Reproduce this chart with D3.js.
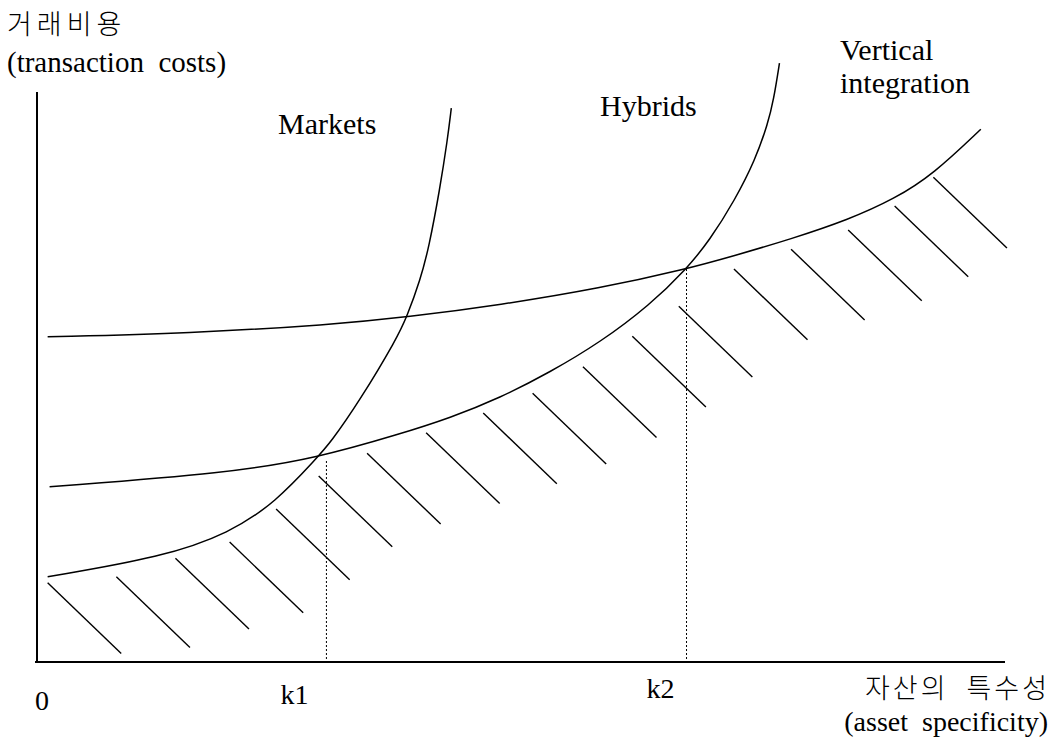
<!DOCTYPE html>
<html>
<head>
<meta charset="utf-8">
<script src="https://d3js.org/d3.v7.min.js"></script>
<style>
  body { margin: 0; background: #fff; }
  .serif { font-family: "Liberation Serif", "DejaVu Serif", serif; fill: #000; }
  .kr { font-family: "Noto Sans CJK KR", sans-serif; fill: #000; font-weight: 300; }
  .curve { fill: none; stroke: #000; stroke-width: 1.5; }
  .hatch { stroke: #000; stroke-width: 1.4; }
  .drop { stroke: #000; stroke-width: 1; stroke-dasharray: 2,2; }
</style>
</head>
<body>
<div id="chart"></div>
<script>
// curves: [asset specificity, transaction cost]
var marketsCurve = [[1.1,14.2],[13.0,17.5],[19.9,21.5],[24.7,26.7],[28.9,34.0],[30.3,36.5],
  [33.4,43.7],[37.2,54.0],[38.2,57.5],[39.6,63.7],[40.5,69.2],[41.6,78.7],[42.4,87.0],[42.8,92.3]];
var hybridsCurve = [[1.3,29.2],[19.9,31.5],[28.9,34.0],[37.5,38.0],[42.7,40.7],[47.8,44.0],
  [53.0,48.3],[58.2,53.3],[63.3,59.5],[67.1,65.5],[69.5,70.3],[72.1,77.0],[74.2,83.7],
  [75.5,89.7],[76.1,93.7],[76.7,99.8]];
var verticalCurve = [[1.1,54.2],[15.8,54.8],[30.3,56.2],[38.3,57.5],[47.8,59.5],[58.2,62.3],
  [67.1,65.5],[72.0,67.7],[77.9,70.5],[83.8,73.7],[88.6,77.2],[92.6,81.3],[97.5,88.8]];

// switch points k1, k2 and the cost where the dotted line starts
var switchPoints = [{ name: "k1", k: 29.9, cost: 33.5 }, { name: "k2", k: 67.1, cost: 65.5 }];

// hatch marks under the lower envelope (upper-left end of each stroke)
var hatchStarts = [[1.1,13.2],[8.2,14.2],[14.3,17.3],[19.9,20.0],[24.7,25.5],[29.1,31.0],
  [34.1,34.8],[40.2,38.2],[46.1,41.5],[51.2,44.8],[56.4,49.2],[61.5,54.3],[66.3,59.3],
  [72.0,65.5],[77.9,68.8],[83.8,72.0],[88.6,76.0],[92.6,80.8]];
var hatchStep = [7.6, -11.8];

var xMax = 100, yTop = 95;

var margin = { top: 62, right: 48, bottom: 79, left: 37 },
  width = 1053 - margin.left - margin.right,
  height = 741 - margin.top - margin.bottom;

var x = d3.scaleLinear().domain([0, xMax]).range([0, width]);
var y = d3.scaleLinear().domain([0, 100]).range([height, 0]);

var line = d3.line()
  .x(function (d) { return x(d[0]); })
  .y(function (d) { return y(d[1]); })
  .curve(d3.curveBasis);

var root = d3.select("#chart").append("svg")
  .attr("width", 1053)
  .attr("height", 741);

var svg = root.append("g")
  .attr("transform", "translate(" + margin.left + "," + margin.top + ")");

// axes (plain lines, no ticks)
svg.append("line")
  .attr("x1", x(0)).attr("x2", x(0))
  .attr("y1", y(0)).attr("y2", y(yTop))
  .attr("stroke", "#000").attr("stroke-width", 2);
svg.append("line")
  .attr("x1", x(0) - 2).attr("x2", x(xMax))
  .attr("y1", y(0)).attr("y2", y(0))
  .attr("stroke", "#000").attr("stroke-width", 2);

// dotted drop lines
svg.selectAll(".drop")
  .data(switchPoints)
  .enter().append("line")
  .attr("class", "drop")
  .attr("x1", function (d) { return x(d.k); })
  .attr("x2", function (d) { return x(d.k); })
  .attr("y1", function (d) { return y(d.cost); })
  .attr("y2", y(0));

// hatching
svg.selectAll(".hatch")
  .data(hatchStarts)
  .enter().append("line")
  .attr("class", "hatch")
  .attr("x1", function (d) { return x(d[0]); })
  .attr("y1", function (d) { return y(d[1]); })
  .attr("x2", function (d) { return x(d[0] + hatchStep[0]); })
  .attr("y2", function (d) { return y(d[1] + hatchStep[1]); });

[marketsCurve, hybridsCurve, verticalCurve].forEach(function (c) {
  svg.append("path")
    .datum(c)
    .attr("class", "curve")
    .attr("d", line);
});

// tick-like labels under the axis
root.append("text").attr("class", "serif").attr("font-size", 28)
  .attr("x", 35).attr("y", 710).text("0");
svg.selectAll(".klabel")
  .data(switchPoints)
  .enter().append("text")
  .attr("class", "serif klabel")
  .attr("font-size", 28)
  .attr("x", function (d) { return x(d.k) - 46 + (d.name === "k2" ? 6 : 0); })
  .attr("y", function (d) { return d.name === "k1" ? 642 : 636; })
  .text(function (d) { return d.name; });

// axis titles
root.append("text").attr("class", "kr").attr("font-size", 27)
  .attr("x", 7).attr("y", 34).attr("letter-spacing", 5).text("거래비용");
root.append("text").attr("class", "serif").attr("font-size", 29)
  .attr("x", 7).attr("y", 72)
  .style("white-space", "pre").text("(transaction  costs)");
root.append("text").attr("class", "kr").attr("font-size", 27)
  .attr("text-anchor", "end").attr("x", 1050).attr("y", 698)
  .attr("letter-spacing", 3)
  .style("white-space", "pre").text("자산의  특수성");
root.append("text").attr("class", "serif").attr("font-size", 28)
  .attr("text-anchor", "end").attr("x", 1048).attr("y", 731)
  .style("white-space", "pre").text("(asset  specificity)");

// curve labels
root.append("text").attr("class", "serif").attr("font-size", 30)
  .attr("x", 278).attr("y", 134).text("Markets");
root.append("text").attr("class", "serif").attr("font-size", 30)
  .attr("x", 600).attr("y", 116).text("Hybrids");
root.append("text").attr("class", "serif").attr("font-size", 30)
  .attr("x", 840).attr("y", 60).text("Vertical");
root.append("text").attr("class", "serif").attr("font-size", 30)
  .attr("x", 840).attr("y", 93).text("integration");
</script>
</body>
</html>
